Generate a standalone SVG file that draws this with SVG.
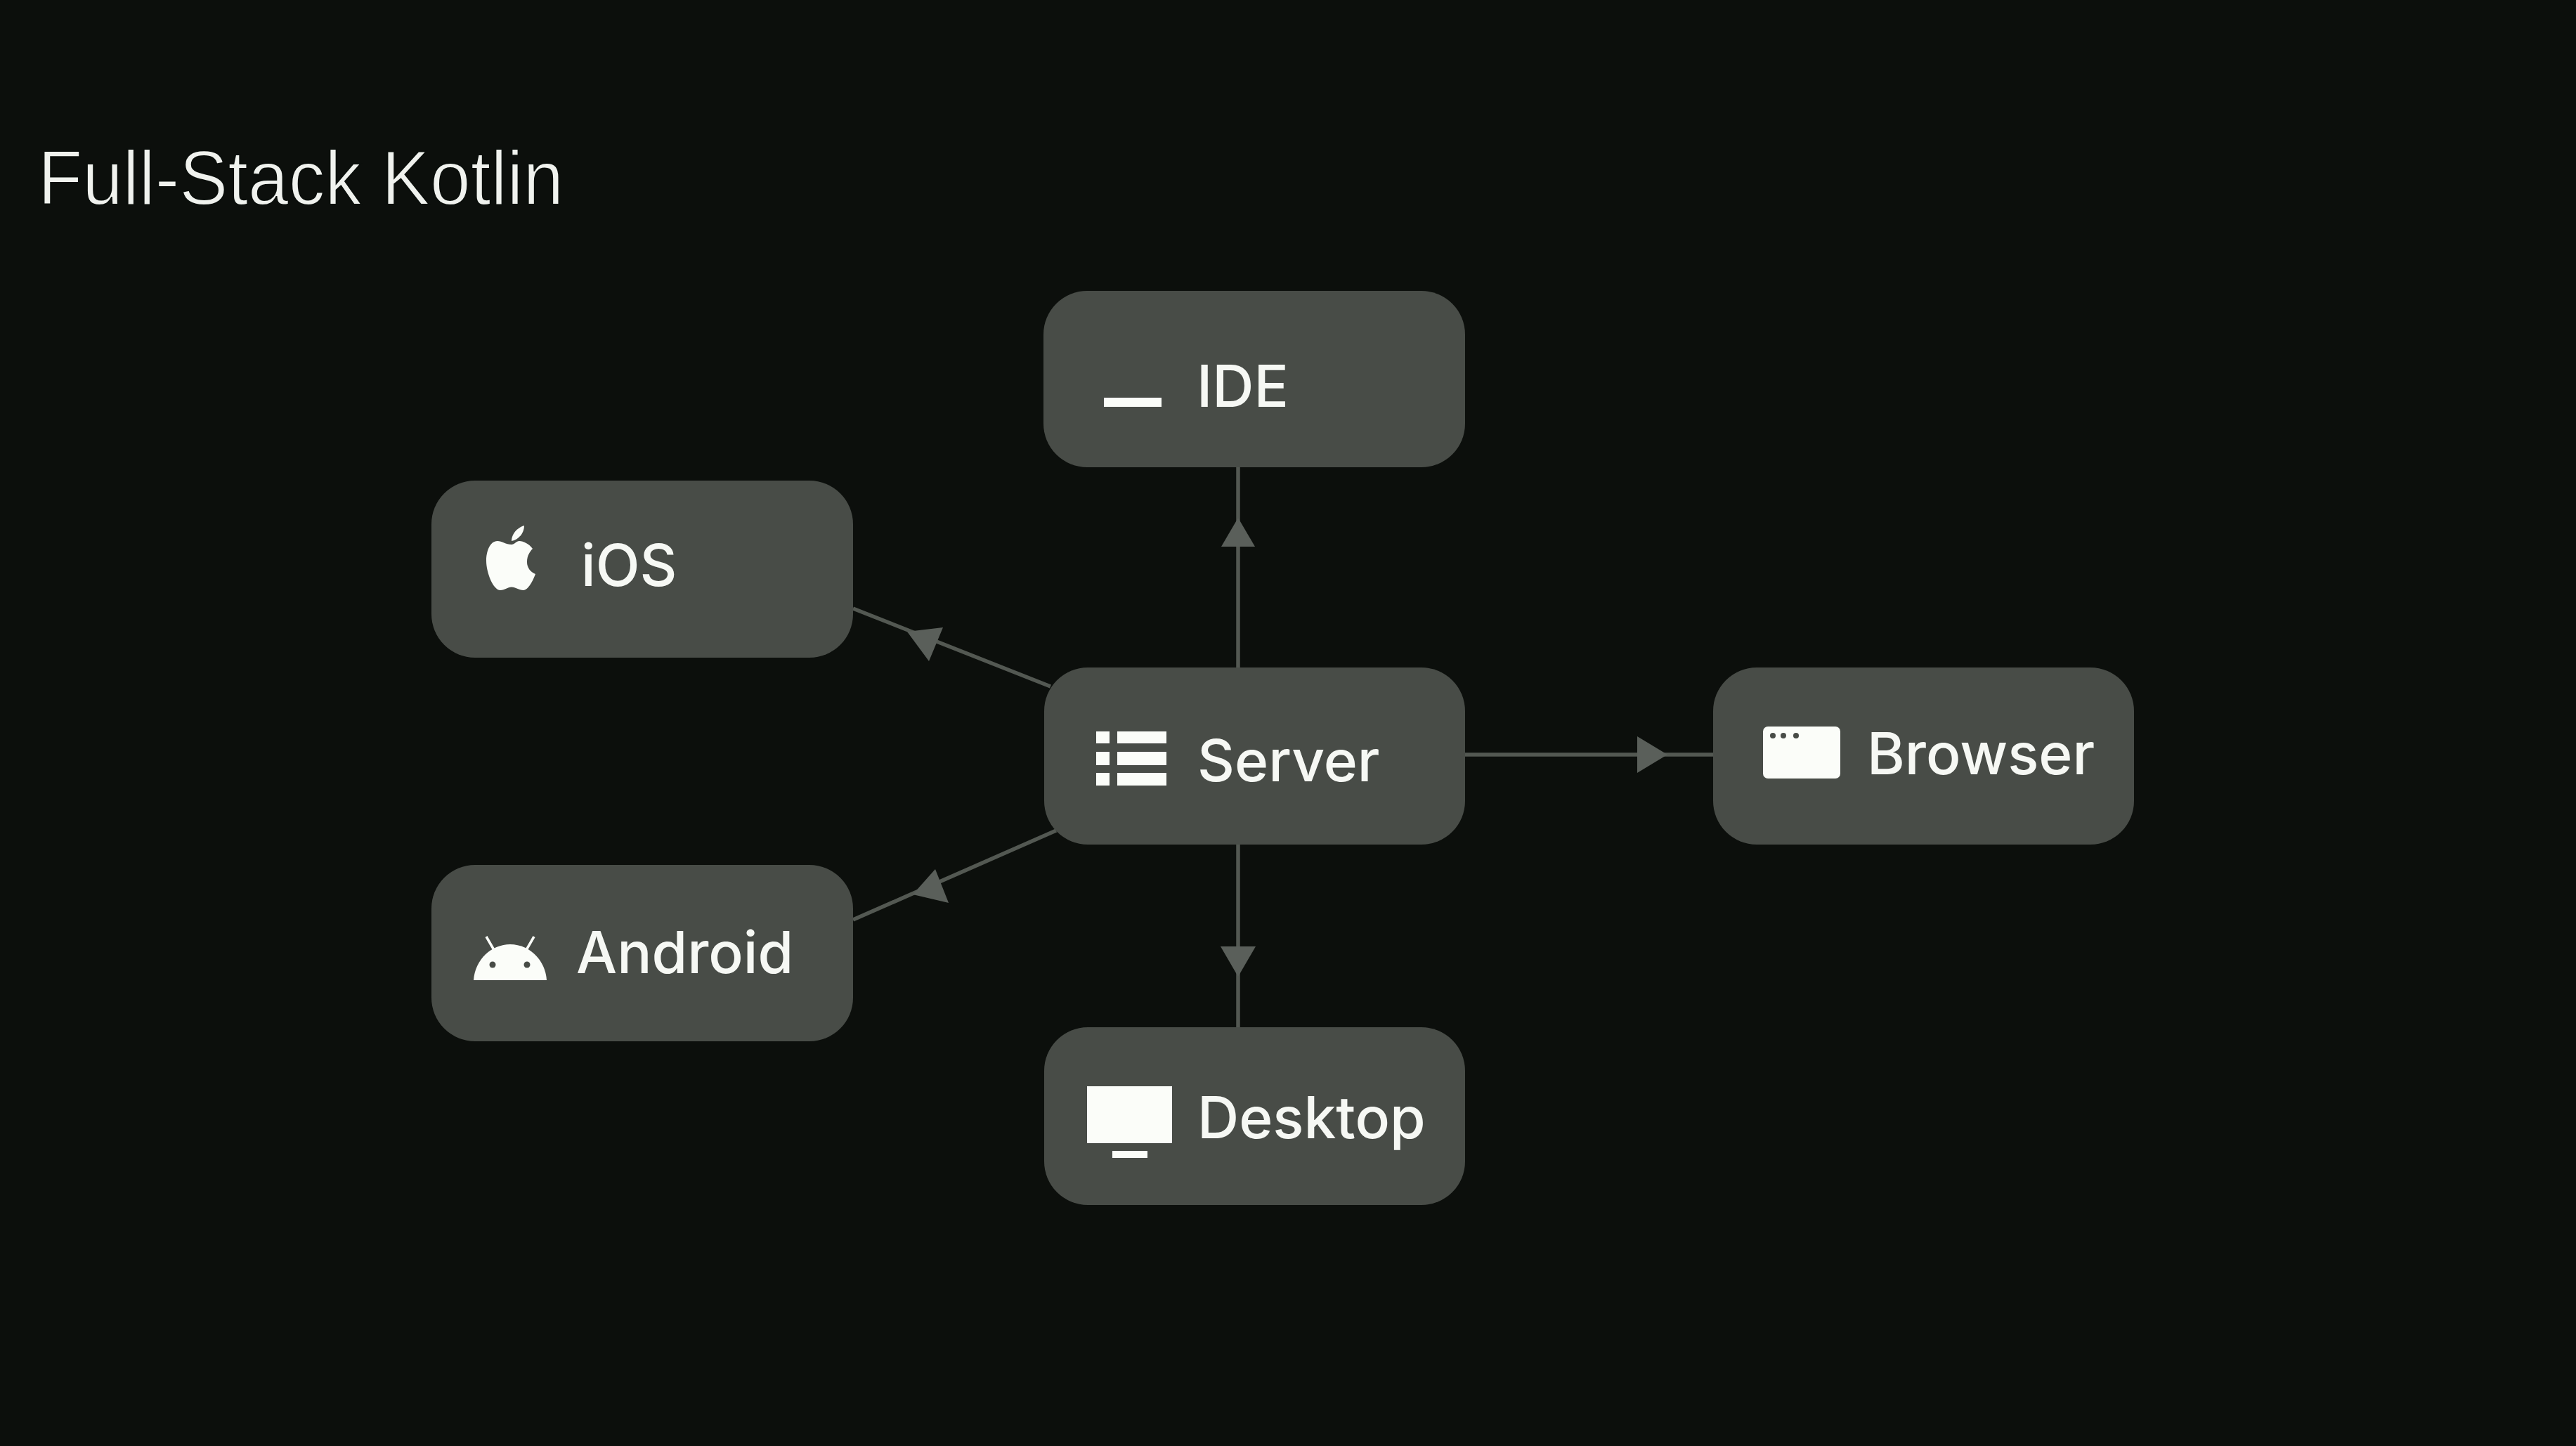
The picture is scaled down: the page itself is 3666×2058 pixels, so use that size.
<svg xmlns="http://www.w3.org/2000/svg" width="3666" height="2058" viewBox="0 0 3666 2058">
<style>
.box{fill:#484c47}
.lbl{font-family:"Inter","Liberation Sans",sans-serif;font-size:82px;font-weight:450;fill:#f6f8f4}
.ico{fill:#fbfdf9}
.ln{stroke:#535852;stroke-width:5.5;fill:none}
.hd{fill:#5a5f5a}
.title{font-family:"Liberation Sans",Arial,sans-serif;font-size:110px;fill:#f0f2ee;stroke:#0b0f0c;stroke-width:2;paint-order:fill stroke}
</style>
<rect width="3666" height="2058" fill="#0c0f0c"/>
<text id="title" class="title" x="54" y="291" textLength="748" lengthAdjust="spacingAndGlyphs">Full-Stack Kotlin</text>
<g id="connectors">
<line class="ln" x1="1762" y1="664" x2="1762" y2="950"/>
<polygon class="hd" points="1762,737 1786,778 1738,778"/>
<line class="ln" x1="1762" y1="1202" x2="1762" y2="1462"/>
<polygon class="hd" points="1762,1390 1737,1347 1787,1347"/>
<line class="ln" x1="2085" y1="1074" x2="2438" y2="1074"/>
<polygon class="hd" points="2373,1074 2330,1048 2330,1100"/>
<line class="ln" x1="1214" y1="866" x2="1495" y2="977"/>
<polygon class="hd" points="1291,899 1342,893 1322,941"/>
<line class="ln" x1="1214" y1="1309" x2="1503" y2="1182"/>
<polygon class="hd" points="1299,1273 1331,1237 1350,1285"/>
</g>
<g id="ide">
<rect class="box" x="1485" y="414" width="600" height="251" rx="62"/>
<rect class="ico" x="1571" y="566" width="82" height="13"/>
<text class="lbl" x="1703" y="579">IDE</text>
</g>
<g id="ios">
<rect class="box" x="614" y="684" width="600" height="252" rx="62"/>
<path class="ico" d="M728 775C720 775 714 770 708 770C697 770 692 785 692 798C692 815 702 840 712 840C719 840 722 835.5 728 835.5C734 835.5 738 840 745 840C752 840 759 825 762 817C755 814 750 808 750 800C750 791 754 785 758 781C753 774 745 770 739 770C735 770 732 775 728 775Z"/>
<path class="ico" d="M728 770C728 760 736 751 746 748C746 759 738 768 728 770Z"/>
<text class="lbl" x="827" y="834">iOS</text>
</g>
<g id="android">
<rect class="box" x="614" y="1231" width="600" height="251" rx="62"/>
<path class="ico" d="M674 1395C676 1365 700 1344 726 1344C752 1344 776 1365 778 1395Z"/>
<circle cx="701" cy="1373" r="4.5" fill="#484c47"/>
<circle cx="750" cy="1373" r="4.5" fill="#484c47"/>
<path d="M692 1333L703 1352M760 1333L749 1352" stroke="#fbfdf9" stroke-width="3.5" fill="none"/>
<text class="lbl" x="820" y="1385">Android</text>
</g>
<g id="server">
<rect class="box" x="1486" y="950" width="599" height="252" rx="62"/>
<path class="ico" d="M1560 1041h19v17h-19zM1590 1041h70v17h-70zM1560 1070h19v19h-19zM1590 1070h70v19h-70zM1560 1100h19v18h-19zM1590 1100h70v18h-70z"/>
<text class="lbl" x="1704" y="1112">Server</text>
</g>
<g id="browser">
<rect class="box" x="2438" y="950" width="599" height="252" rx="62"/>
<rect class="ico" x="2509" y="1034" width="110" height="74" rx="7"/>
<circle cx="2523" cy="1047" r="4" fill="#484c47"/>
<circle cx="2538" cy="1047" r="4" fill="#484c47"/>
<circle cx="2556" cy="1047" r="4" fill="#484c47"/>
<text class="lbl" x="2657" y="1102">Browser</text>
</g>
<g id="desktop">
<rect class="box" x="1486" y="1462" width="599" height="253" rx="62"/>
<rect class="ico" x="1547" y="1546" width="121" height="81"/>
<rect class="ico" x="1583" y="1638" width="50" height="10"/>
<text class="lbl" x="1704" y="1620">Desktop</text>
</g>
</svg>
